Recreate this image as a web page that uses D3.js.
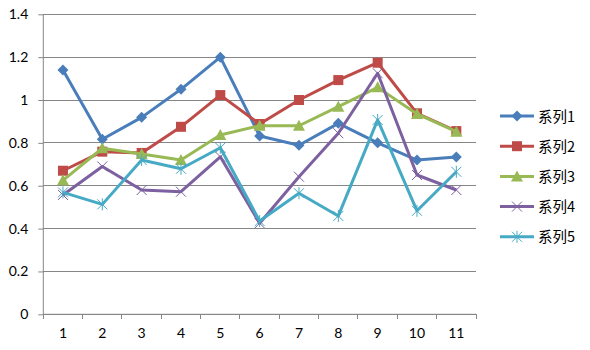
<!DOCTYPE html>
<html><head><meta charset="utf-8">
<script src="https://cdn.jsdelivr.net/npm/d3@7"></script>
<style>body{margin:0;background:#fff}svg{display:block}</style>
</head><body>
<svg id="c" width="590" height="350"></svg>
<script>
const categories = ["1","2","3","4","5","6","7","8","9","10","11"];
const seriesNames = ["系列1","系列2","系列3","系列4","系列5"];
const s1 = [1.14,0.817,0.919,1.05,1.2,0.832,0.789,0.891,0.80,0.72,0.734];
const s2 = [0.67,0.759,0.753,0.875,1.023,0.888,1.0,1.093,1.174,0.938,0.855];
const s3 = [0.625,0.775,0.748,0.72,0.837,0.88,0.88,0.969,1.059,0.935,0.852];
const s4 = [0.557,0.69,0.58,0.572,0.735,0.425,0.642,0.845,1.125,0.65,0.58];
const s5 = [0.569,0.513,0.72,0.679,0.777,0.435,0.565,0.459,0.907,0.483,0.665];
const yTicks = [0,0.2,0.4,0.6,0.8,1,1.2,1.4];
const colors = ["#4A7EBB","#BE4B48","#98B954","#7D60A0","#46AAC5"];
const markers = ["diamond","square","triangle","x","star"];
const data = [s1,s2,s3,s4,s5];

const svg = d3.select("#c");
const L=43.3, R=476, T=14.3, B=314.3;
const x = d3.scaleBand().domain(categories).range([L,R]);
const y = d3.scaleLinear().domain([0,1.4]).range([B,T]);
const font = "Lato, 'Liberation Sans', sans-serif";

// gridlines
svg.append("g").selectAll("line").data(yTicks).join("line")
  .attr("x1",L).attr("x2",R).attr("y1",d=>y(d)).attr("y2",d=>y(d))
  .attr("stroke","#868686").attr("stroke-width",1).attr("shape-rendering","crispEdges");

// y axis
const ya = svg.append("g").attr("transform",`translate(${L},0)`)
  .call(d3.axisLeft(y).tickValues(yTicks).tickSize(5).tickPadding(10).tickFormat(d=>d3.format("")(+d.toFixed(1))));
ya.select(".domain").attr("stroke","#868686").attr("d",`M0,${T}V${B}`);
ya.selectAll(".tick line").attr("stroke","#868686");
ya.selectAll("text").attr("font-family",font).attr("font-size","14px").attr("fill","#000");

// x axis
const xa = svg.append("g").attr("transform",`translate(0,${B})`)
  .call(d3.axisBottom(x).tickSize(0).tickPadding(14));
xa.select(".domain").attr("stroke","#868686").attr("d",`M${L},0H${R}`);
xa.selectAll("text").attr("font-family",font).attr("font-size","14px").attr("fill","#000");
xa.selectAll(".tick line").remove();
svg.append("g").selectAll("line").data(categories.concat(["_end"])).join("line")
  .attr("x1",(d,i)=>L+i*x.bandwidth()).attr("x2",(d,i)=>L+i*x.bandwidth())
  .attr("y1",B).attr("y2",B+5).attr("stroke","#868686").attr("shape-rendering","crispEdges");

function drawMarker(g, type, color){
  if(type==="diamond"){
    g.append("path").attr("fill",color).attr("d","M0,-5.5L5.5,0L0,5.5L-5.5,0Z");
  } else if(type==="square"){
    g.append("rect").attr("x",-5).attr("y",-5).attr("width",10).attr("height",10).attr("fill",color);
  } else if(type==="triangle"){
    g.append("path").attr("d","M0,-6L6,5L-6,5Z").attr("fill",color);
  } else if(type==="x"){
    g.append("path").attr("d","M-5,-5L5,5M-5,5L5,-5").attr("stroke",color).attr("stroke-width",1).attr("fill","none");
  } else {
    g.append("path").attr("d","M-5,-5L5,5M-5,5L5,-5M0,-6V6").attr("stroke",color).attr("stroke-width",1).attr("fill","none");
  }
}

const line = d3.line().x((d,i)=>x(categories[i])+x.bandwidth()/2).y(d=>y(d));
data.forEach((vals,si)=>{
  svg.append("path").datum(vals).attr("d",line).attr("fill","none")
    .attr("stroke",colors[si]).attr("stroke-width",3).attr("stroke-linejoin","round");
  vals.forEach((v,i)=>{
    const g = svg.append("g").attr("transform",`translate(${x(categories[i])+x.bandwidth()/2},${y(v)})`);
    drawMarker(g, markers[si], colors[si]);
  });
});

// legend
const lg = svg.append("g");
seriesNames.forEach((n,i)=>{
  const ly = 116 + i*30.2;
  lg.append("line").attr("x1",500).attr("x2",534).attr("y1",ly).attr("y2",ly)
    .attr("stroke",colors[i]).attr("stroke-width",3);
  const g = lg.append("g").attr("transform",`translate(517,${ly})`);
  drawMarker(g, markers[i], colors[i]);
  lg.append("text").attr("x",538).attr("y",ly+5.5).text(n)
    .attr("font-family","'Noto Sans CJK SC', sans-serif").attr("font-size","14.5px").attr("fill","#000");
});
</script>
</body></html>
